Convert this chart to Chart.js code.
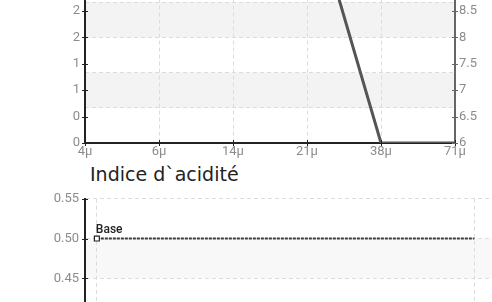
<!DOCTYPE html>
<html lang="fr">
<head>
<meta charset="UTF-8">
<title>Indice d`acidité</title>
<script src="https://cdn.jsdelivr.net/npm/chart.js@4.4.1/dist/chart.umd.min.js"></script>
<style>
    html, body { margin: 0; padding: 0; background: #fff; }
    body { width: 492px; height: 302px; overflow: hidden; position: relative; }
    #haut { position: absolute; left: 0; top: -40px; }
    #bas { position: absolute; left: 0; top: 185px; }
    #titre { position: absolute; left: 90px; top: 163px; font: 19px "DejaVu Sans"; color: #222; line-height: 22px; white-space: nowrap; }
</style>
</head>
<body>

<canvas id="haut" width="492" height="200"></canvas>
<div id="titre">Indice d`acidité</div>
<canvas id="bas" width="520" height="160"></canvas>

<script>
    // graphique du haut : granulométrie
    const tailles = ['4µ', '6µ', '14µ', '21µ', '38µ', '71µ'];
    const courbe = [3.6, 3.6, 3.6, 3.6, 0, 0];

    // graphique du bas : indice d'acidité
    const baseX = [0, 1];
    const baseY = [0.5, 0.5];
    const baseNom = 'Base';

    const policeTicks = 'Roboto, "Liberation Sans", sans-serif';
    const grisTicks = '#8c8c8c';

    // bandes grises alternées entre les lignes de grille
    const bandes = {
        id: 'bandes',
        beforeDraw(chart, args, opts) {
            const s = chart.scales[opts.axe];
            const ctx = chart.ctx;
            const { left, right } = chart.chartArea;
            ctx.save();
            ctx.fillStyle = opts.couleur;
            for (let i = 0; i < s.ticks.length - 1; i++) {
                if (i % 2 === 1) {
                    const y1 = s.getPixelForValue(s.ticks[i].value);
                    const y2 = s.getPixelForValue(s.ticks[i + 1].value);
                    ctx.fillRect(left, Math.min(y1, y2), right - left, Math.abs(y2 - y1));
                }
            }
            ctx.restore();
        }
    };

    // petits traits qui traversent les axes
    const traits = {
        id: 'traits',
        afterDraw(chart, args, opts) {
            const ctx = chart.ctx;
            ctx.save();
            ctx.lineWidth = 1;
            (opts.axes || []).forEach(function (a) {
                const s = chart.scales[a.id];
                ctx.strokeStyle = a.couleur;
                s.ticks.forEach(function (t, i) {
                    const p = Math.round(s.getPixelForTick(i)) + 0.5;
                    ctx.beginPath();
                    if (s.isHorizontal()) {
                        ctx.moveTo(p, s.top - 3);
                        ctx.lineTo(p, s.top + 3);
                    } else {
                        const x = s.position === 'left' ? s.right : s.left;
                        ctx.moveTo(x - 3, p);
                        ctx.lineTo(x + 3, p);
                    }
                    ctx.stroke();
                });
            });
            ctx.restore();
        }
    };

    // étiquette de la courbe "Base"
    const etiquette = {
        id: 'etiquette',
        afterDatasetsDraw(chart) {
            const pt = chart.getDatasetMeta(0).data[0];
            const ctx = chart.ctx;
            ctx.save();
            ctx.font = '500 12px ' + policeTicks;
            ctx.fillStyle = '#222';
            ctx.textAlign = 'left';
            ctx.textBaseline = 'bottom';
            ctx.fillText(chart.data.datasets[0].label, pt.x - 1, pt.y - 3);
            ctx.restore();
        }
    };

    const grille = { color: '#dcdcdc', lineWidth: 1, drawTicks: false };

    new Chart(document.getElementById('haut'), {
        type: 'line',
        data: {
            labels: tailles,
            datasets: [{
                data: courbe,
                yAxisID: 'y',
                borderColor: '#555',
                borderWidth: 3,
                pointRadius: 0,
                tension: 0
            }]
        },
        options: {
            responsive: false,
            animation: false,
            layout: { padding: { top: 24.6, left: 0, right: 0, bottom: 0 } },
            plugins: {
                legend: { display: false },
                tooltip: { enabled: false },
                bandes: { axe: 'yg', couleur: '#f3f3f3' },
                traits: { axes: [{ id: 'x', couleur: '#222' }, { id: 'y', couleur: '#222' }, { id: 'y2', couleur: '#666' }] }
            },
            scales: {
                x: {
                    offset: false,
                    grid: Object.assign({}, grille),
                    border: { display: true, color: '#222', width: 2, dash: [4, 3] },
                    ticks: { color: grisTicks, font: { family: policeTicks, size: 13 }, padding: 1, maxRotation: 0, autoSkip: false },
                    afterFit: function (s) { s.height = 17; }
                },
                y: {
                    position: 'left',
                    min: 0, max: 2.25,
                    grid: { display: false, drawTicks: false },
                    border: { display: true, color: '#222', width: 2 },
                    ticks: { stepSize: 0.375, includeBounds: false, color: grisTicks, font: { family: policeTicks, size: 13 }, padding: 5,
                        callback: function (v) { return Math.round(v); } },
                    afterFit: function (s) { s.width = 85; }
                },
                yg: {
                    position: 'left',
                    min: 0, max: 2.25,
                    grid: Object.assign({}, grille),
                    border: { display: false, dash: [4, 3] },
                    ticks: { display: false, stepSize: 0.5, includeBounds: false },
                    afterFit: function (s) { s.width = 0; }
                },
                y2: {
                    position: 'right',
                    min: 6, max: 9,
                    grid: { display: false, drawTicks: false },
                    border: { display: true, color: '#666', width: 2 },
                    ticks: { stepSize: 0.5, color: grisTicks, font: { family: policeTicks, size: 13 }, padding: 4,
                        callback: function (v) { return String(v); } },
                    afterFit: function (s) { s.width = 37; }
                }
            }
        },
        plugins: [bandes, traits]
    });

    new Chart(document.getElementById('bas'), {
        type: 'line',
        data: {
            datasets: [{
                label: baseNom,
                data: baseX.map(function (x, i) { return { x: x, y: baseY[i] }; }),
                borderColor: '#3c3c3c',
                borderWidth: 2,
                borderDash: [3, 1],
                pointStyle: 'rect',
                pointRadius: [3.5, 0],
                pointBackgroundColor: '#fff',
                pointBorderColor: '#222',
                pointBorderWidth: 1.2,
                tension: 0
            }]
        },
        options: {
            responsive: false,
            animation: false,
            layout: { padding: { top: 10, left: 0, right: 0, bottom: 0 } },
            plugins: {
                legend: { display: false },
                tooltip: { enabled: false },
                bandes: { axe: 'y', couleur: '#f8f8f8' },
                traits: { axes: [{ id: 'y', couleur: '#222' }] }
            },
            scales: {
                x: {
                    type: 'linear',
                    min: -0.0314, max: 1.107,
                    grid: Object.assign({}, grille),
                    border: { display: false, dash: [4, 3] },
                    ticks: { display: false, stepSize: 1, includeBounds: false },
                    afterFit: function (s) { s.height = 27; }
                },
                y: {
                    min: 0.40, max: 0.55,
                    grid: Object.assign({}, grille),
                    border: { display: true, color: '#222', width: 2, dash: [4, 3] },
                    ticks: { stepSize: 0.05, color: grisTicks, font: { family: policeTicks, size: 13 }, padding: 6,
                        callback: function (v) { return v.toFixed(2); } },
                    afterFit: function (s) { s.width = 85; }
                }
            }
        },
        plugins: [bandes, traits, etiquette]
    });
</script>
</body>
</html>
